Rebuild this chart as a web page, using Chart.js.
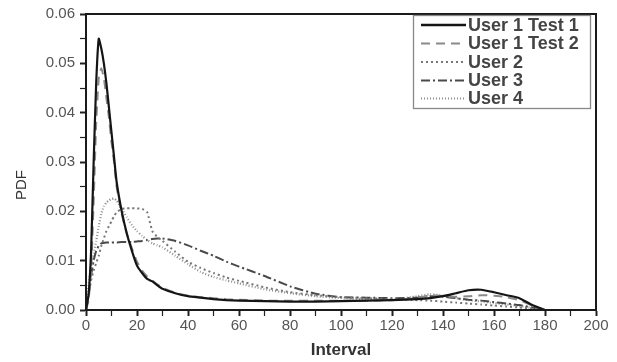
<!DOCTYPE html>
<html>
<head>
<meta charset="utf-8">
<script src="https://cdn.jsdelivr.net/npm/chart.js@4.4.1/dist/chart.umd.min.js"></script>
<style>
  html, body { margin: 0; padding: 0; background: #fff; }
  #wrap { width: 617px; height: 362px; }
</style>
</head>
<body>
<div id="wrap"><canvas id="pdfChart" width="617" height="362"></canvas></div>
<script>
const intervals = [0, 1, 2, 3, 4, 5, 6, 7, 8, 9, 10, 11, 12, 14, 16, 18, 20, 22, 24, 26, 28, 30, 35, 40, 45, 50, 55, 60, 70, 80, 90, 100, 110, 120, 130, 135, 140, 145, 150, 155, 160, 165, 170, 175, 180]

const user1Test1 = [0, 0.003, 0.012, 0.030, 0.046, 0.055, 0.053, 0.050, 0.046, 0.041, 0.036, 0.031, 0.026, 0.020, 0.0155, 0.012, 0.009, 0.0075, 0.0063, 0.0058, 0.005, 0.0043, 0.0034, 0.0028, 0.0025, 0.0022, 0.002, 0.0019, 0.0018, 0.0017, 0.0017, 0.0018, 0.0019, 0.0020, 0.0022, 0.0024, 0.0028, 0.0034, 0.0040, 0.0041, 0.0036, 0.0030, 0.0024, 0.0010, 0]
const user1Test2 = [0, 0.002, 0.008, 0.022, 0.038, 0.047, 0.049, 0.047, 0.043, 0.039, 0.034, 0.030, 0.025, 0.0195, 0.0155, 0.0125, 0.0098, 0.008, 0.0068, 0.006, 0.0052, 0.0045, 0.0035, 0.0029, 0.0026, 0.0024, 0.0022, 0.0021, 0.0019, 0.0019, 0.0019, 0.0019, 0.0019, 0.002, 0.0024, 0.003, 0.0028, 0.0027, 0.0028, 0.0030, 0.0029, 0.0026, 0.0020, 0.0009, 0]
const user2 = [0, 0.003, 0.006, 0.008, 0.0095, 0.011, 0.013, 0.0145, 0.016, 0.017, 0.018, 0.019, 0.0198, 0.0205, 0.0206, 0.0206, 0.0206, 0.0205, 0.0198, 0.016, 0.0148, 0.014, 0.0118, 0.0098, 0.0085, 0.0075, 0.0066, 0.0059, 0.0046, 0.0036, 0.003, 0.0026, 0.0024, 0.0022, 0.002, 0.0019, 0.0017, 0.0015, 0.0013, 0.0011, 0.0009, 0.0007, 0.0005, 0.0003, 0]
const user3 = [0, 0.003, 0.007, 0.010, 0.012, 0.013, 0.0135, 0.0136, 0.0137, 0.0137, 0.0137, 0.0137, 0.0137, 0.0138, 0.0138, 0.0138, 0.0139, 0.014, 0.0142, 0.0144, 0.0145, 0.0145, 0.014, 0.0131, 0.012, 0.011, 0.0098, 0.0088, 0.0069, 0.0048, 0.0033, 0.0026, 0.0025, 0.0024, 0.0025, 0.0028, 0.0027, 0.0024, 0.0021, 0.0019, 0.0016, 0.0013, 0.001, 0.0005, 0]
const user4 = [0, 0.005, 0.009, 0.0115, 0.014, 0.017, 0.0195, 0.021, 0.0218, 0.0222, 0.0225, 0.0226, 0.0222, 0.0205, 0.0188, 0.0172, 0.016, 0.015, 0.0142, 0.0135, 0.0131, 0.0127, 0.011, 0.0093, 0.0077, 0.0067, 0.006, 0.0054, 0.0042, 0.0034, 0.0028, 0.0024, 0.0022, 0.0021, 0.0028, 0.0032, 0.0029, 0.0024, 0.0020, 0.0017, 0.0014, 0.0011, 0.0008, 0.0004, 0]

const seriesNames = ['User 1 Test 1', 'User 1 Test 2', 'User 2', 'User 3', 'User 4']
const seriesValues = [user1Test1, user1Test2, user2, user3, user4]
const seriesColors = ['#151515', '#8a8a8a', '#777777', '#4a4a4a', '#8e8e8e']
const seriesDash = [[], [9, 6], [2, 3], [9, 3, 2, 3], [1, 2]]
const seriesWidth = [2.2, 2, 2, 2, 2.2]

const xTicks = [0, 20, 40, 60, 80, 100, 120, 140, 160, 180, 200]
const fontFamily = '"Liberation Sans", Arial, sans-serif'

const datasets = seriesNames.map((name, i) => ({
  label: name,
  data: intervals.map((x, j) => ({x: x, y: seriesValues[i][j]})),
  borderColor: seriesColors[i],
  borderDash: seriesDash[i],
  borderWidth: seriesWidth[i],
  pointRadius: 0,
  tension: 0.15,
  fill: false
}))

// frame, inset legend and the y title (drawn by hand so it sits lower like the original)
const frameAndLegend = {
  id: 'frameAndLegend',
  afterDatasetsDraw(chart) {
    const {ctx, chartArea: {left, top, right, bottom}} = chart
    ctx.save()
    ctx.strokeStyle = '#1a1a1a'
    ctx.lineWidth = 2
    ctx.strokeRect(left, top, right - left, bottom - top)

    const bx = 413.5, by = 15.5, bw = 177, bh = 93
    ctx.fillStyle = '#fff'
    ctx.fillRect(bx, by, bw, bh)
    ctx.strokeStyle = '#888'
    ctx.lineWidth = 1.3
    ctx.strokeRect(bx, by, bw, bh)

    ctx.font = 'bold 18px ' + fontFamily
    ctx.textBaseline = 'middle'
    const rows = [25, 43.5, 62, 80.5, 98.5]
    seriesNames.forEach((name, i) => {
      const y = rows[i]
      ctx.strokeStyle = seriesColors[i]
      ctx.lineWidth = i === 0 ? 2.5 : 2.2
      ctx.setLineDash(seriesDash[i])
      ctx.beginPath()
      ctx.moveTo(421, y)
      ctx.lineTo(466, y)
      ctx.stroke()
      ctx.setLineDash([])
      ctx.fillStyle = '#444'
      ctx.fillText(name, 468, y + 1)
    })

    ctx.translate(22, 185)
    ctx.rotate(-Math.PI / 2)
    ctx.textAlign = 'center'
    ctx.font = '15px ' + fontFamily
    ctx.fillStyle = '#333'
    ctx.fillText('PDF', 0, 0)
    ctx.restore()
  }
}

const config = {
  type: 'line',
  data: {datasets},
  options: {
    responsive: false,
    animation: false,
    layout: {padding: {top: 12, right: 21, left: 0, bottom: 0}},
    plugins: {
      legend: {display: false},
      tooltip: {enabled: false}
    },
    scales: {
      x: {
        type: 'linear',
        min: 0,
        max: 200,
        afterBuildTicks(axis) {
          const t = []
          for (let v = 0; v <= 200; v += 10) t.push({value: v})
          axis.ticks = t
        },
        afterFit(axis) { axis.height = 52 },
        ticks: {
          color: '#555',
          font: {family: fontFamily, size: 15},
          padding: 1,
          maxRotation: 0,
          autoSkip: false,
          callback: (v) => xTicks.includes(v) ? String(v) : ''
        },
        grid: {
          drawOnChartArea: false,
          drawTicks: true,
          tickLength: 6,
          tickWidth: (c) => (c.tick && c.tick.value % 20 === 0) ? 2 : 1.2,
          tickColor: '#222'
        },
        border: {display: true, color: '#1a1a1a', width: 2},
        title: {
          display: true,
          text: 'Interval',
          color: '#333',
          font: {family: fontFamily, size: 17, weight: 'bold'},
          padding: {top: 0, bottom: 1}
        }
      },
      y: {
        min: 0,
        max: 0.06,
        afterBuildTicks(axis) {
          const t = []
          for (let k = 0; k <= 12; k++) t.push({value: k * 0.005})
          axis.ticks = t
        },
        afterFit(axis) { axis.width = 86 },
        ticks: {
          color: '#555',
          font: {family: fontFamily, size: 15},
          padding: 5,
          callback: (v) => {
            const k = Math.round(v / 0.005)
            return k % 2 === 0 ? v.toFixed(2) : ''
          }
        },
        grid: {
          drawOnChartArea: false,
          drawTicks: true,
          tickLength: 6,
          tickWidth: (c) => (c.tick && Math.round(c.tick.value / 0.005) % 2 === 0) ? 2 : 1.2,
          tickColor: '#222'
        },
        border: {display: true, color: '#1a1a1a', width: 2},
        title: {display: false}
      }
    }
  },
  plugins: [frameAndLegend]
}

const myChart = new Chart(document.getElementById('pdfChart'), config)
</script>
</body>
</html>
